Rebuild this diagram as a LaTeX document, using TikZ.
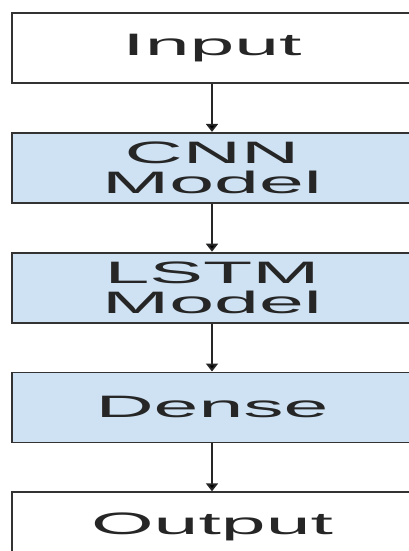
\documentclass[tikz,border=0pt]{standalone}
\usepackage{fontspec}
\setmainfont{Liberation Sans}[FakeStretch=2.6]
\usetikzlibrary{positioning,arrows.meta}

\definecolor{layerblue}{HTML}{CFE2F3}
\definecolor{boxline}{HTML}{333333}

\begin{document}
\begin{tikzpicture}[
                x=1pt,y=-1pt,
                line width=1.8pt,
                block/.style={draw=boxline,fill=white,text=black!85,align=center,
                              minimum width=400pt,minimum height=70pt,inner sep=0pt,
                              font={\fontsize{31}{30}\selectfont}},
                layer/.style={block,fill=layerblue},
                flow/.style={draw=black!85,-{Triangle[width=12pt,length=8pt]}}] %

\useasboundingbox (0,0) rectangle (409,551);
\clip (0,0) rectangle (409,551);

                    % 1
                    \node[block] (INPUT) at (212,48) {Input};

                    % 2
                    \node[layer,below=48pt of INPUT] (CNN) {CNN\\Model};
                    \path [flow] (INPUT) edge (CNN);

                    % 3
                    \node[layer,below=48pt of CNN] (LSTM) {LSTM\\Model};
                    \path [flow] (CNN) edge (LSTM);

                    % 4
                    \node[layer,below=48pt of LSTM] (DENSE) {Dense};
                    \path [flow] (LSTM) edge (DENSE);

                    % 5
                    \node[block,below=48pt of DENSE] (OUTPUT) {Output};
                    \path [flow] (DENSE) edge (OUTPUT);

\end{tikzpicture}
\end{document}
